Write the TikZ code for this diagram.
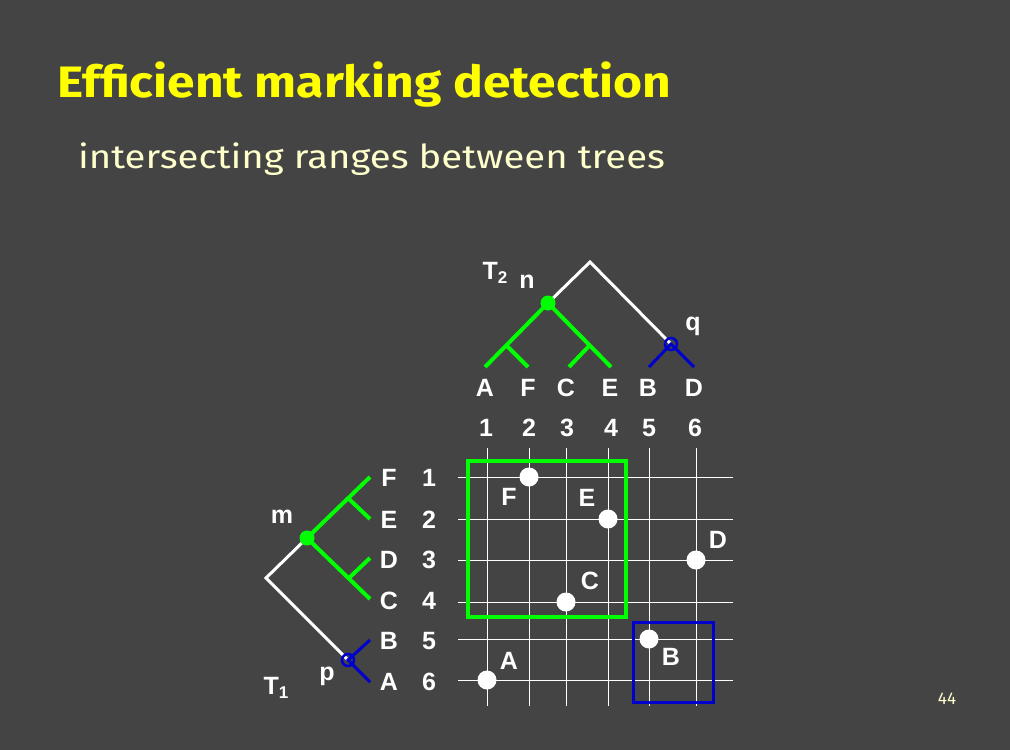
\documentclass[tikz,border=0pt]{standalone}
\usepackage{fontspec}
\setmainfont{Liberation Sans}
\newfontfamily\titlefont{Fira Sans}
\definecolor{bg}{RGB}{68,68,68}
\definecolor{ttl}{RGB}{255,255,0}
\definecolor{sub}{RGB}{255,255,204}
\definecolor{grn}{RGB}{0,255,0}
\definecolor{blu}{RGB}{0,0,204}
\newcommand{\sbs}[1]{\raisebox{-0.35ex}{\fontsize{17}{17}\selectfont #1}}
\begin{document}
\begin{tikzpicture}[x=1pt,y=-1pt,
  lbl/.style={text=white,font=\fontsize{25}{25}\selectfont\bfseries,inner sep=0pt,anchor=base},
  grid/.style={white,line width=1pt},
  wl/.style={white,line width=3pt},
  gl/.style={grn,line width=4pt},
  bl/.style={blu,line width=3pt},
  dot/.style={circle,fill=white,minimum size=19pt,inner sep=0pt},
  gdot/.style={circle,fill=grn,minimum size=15pt,inner sep=0pt},
  bcirc/.style={circle,draw=blu,line width=2.5pt,minimum size=12pt,inner sep=0pt}]
\fill[bg] (0,0) rectangle (1010,750);
\useasboundingbox (0,0) rectangle (1010,750);
% title
\node[anchor=base west,inner sep=0pt,text=ttl,font=\titlefont\fontsize{44}{44}\selectfont\bfseries] (title) at (57,97) {\scalebox{1.13}[1]{Efficient marking detection}};
\node[anchor=base west,inner sep=0pt,text=sub,font=\titlefont\fontsize{33}{33}\selectfont] (subtitle) at (78,168) {\scalebox{1.16}[1]{intersecting ranges between trees}};
\node[anchor=base,inner sep=0pt,text=sub,font=\titlefont\fontsize{17}{17}\selectfont] (pg) at (947,704) {44};
% grid
\foreach \x [count=\i] in {487,529,566,608,649,696}{
  \coordinate (vt\i) at (\x,448);
  \coordinate (vb\i) at (\x,706);
  \draw[grid] (vt\i) -- (vb\i);
}
\foreach \y [count=\i] in {477,519,560,602,639,680}{
  \coordinate (hl\i) at (458,\y);
  \coordinate (hr\i) at (733,\y);
  \draw[grid] (hl\i) -- (hr\i);
}
% boxes
\node[draw=grn,line width=4pt,minimum width=158pt,minimum height=156pt,inner sep=0pt] (gbox) at (547,539) {};
\node[draw=blu,line width=3pt,minimum width=80pt,minimum height=80pt,inner sep=0pt] (bbox) at (673,662) {};
% dots
\node[dot] (dF) at (529,477) {};
\node[dot] (dE) at (608,519) {};
\node[dot] (dD) at (696,560) {};
\node[dot] (dC) at (566,602) {};
\node[dot] (dB) at (649,639) {};
\node[dot] (dA) at (487,680) {};
\node[lbl] (lF) at (509,505) {F};
\node[lbl] (lE) at (587,506) {E};
\node[lbl] (lD) at (718,548) {D};
\node[lbl] (lC) at (590,589) {C};
\node[lbl] (lB) at (671,665) {B};
\node[lbl] (lA) at (509,669) {A};
% T2 tree
\coordinate (r2) at (590,262);
\coordinate (n2) at (548,303);
\coordinate (q2) at (671,344);
\coordinate (af) at (507,346);
\coordinate (ce) at (589,346);
\coordinate (t2A) at (485,367);
\coordinate (t2F) at (528,367);
\coordinate (t2C) at (569,367);
\coordinate (t2E) at (611,367);
\coordinate (t2B) at (649,367);
\coordinate (t2D) at (694,367);
\draw[wl] (n2) -- (r2) -- (q2);
\draw[gl] (t2A) -- (n2) -- (t2E);
\draw[gl] (af) -- (t2F);
\draw[gl] (ce) -- (t2C);
\draw[bl] (t2B) -- (q2) -- (t2D);
\node[gdot] (ndot) at (n2) {};
\node[bcirc] (qc) at (q2) {};
\node[lbl] (T2) at (495,279) {T\sbs{2}};
\node[lbl] (nl) at (527,288) {n};
\node[lbl] (ql) at (693,330) {q};
\foreach \l/\x/\n [count=\i] in {A/485/1,F/528/2,C/566/3,E/610/4,B/648/5,D/694/6}{
  \node[lbl] (tl\i) at (\x,396) {\l};
  \node[lbl] (tn\i) at (\x+1,436) {\n};
}
% T1 tree
\coordinate (r1) at (266,578);
\coordinate (m1) at (307,538);
\coordinate (p1) at (348,660);
\coordinate (fe) at (349,499);
\coordinate (dc) at (349,578);
\coordinate (t1F) at (370,477);
\coordinate (t1E) at (370,519);
\coordinate (t1D) at (370,558);
\coordinate (t1C) at (370,599);
\coordinate (t1B) at (370,640);
\coordinate (t1A) at (370,682);
\draw[wl] (m1) -- (r1) -- (p1);
\draw[gl] (t1F) -- (m1) -- (t1C);
\draw[gl] (fe) -- (t1E);
\draw[gl] (dc) -- (t1D);
\draw[bl] (t1B) -- (p1) -- (t1A);
\node[gdot] (mdot) at (m1) {};
\node[bcirc] (pc) at (p1) {};
\node[lbl] (ml) at (282,523) {m};
\node[lbl] (T1) at (276,694) {T\sbs{1}};
\node[lbl] (pl) at (327,680) {p};
\foreach \l/\y/\n [count=\i] in {F/477/1,E/519/2,D/559/3,C/600/4,B/640/5,A/681/6}{
  \node[lbl] (sl\i) at (389,\y+9) {\l};
  \node[lbl] (sn\i) at (429,\y+9) {\n};
}
\end{tikzpicture}
\end{document}
